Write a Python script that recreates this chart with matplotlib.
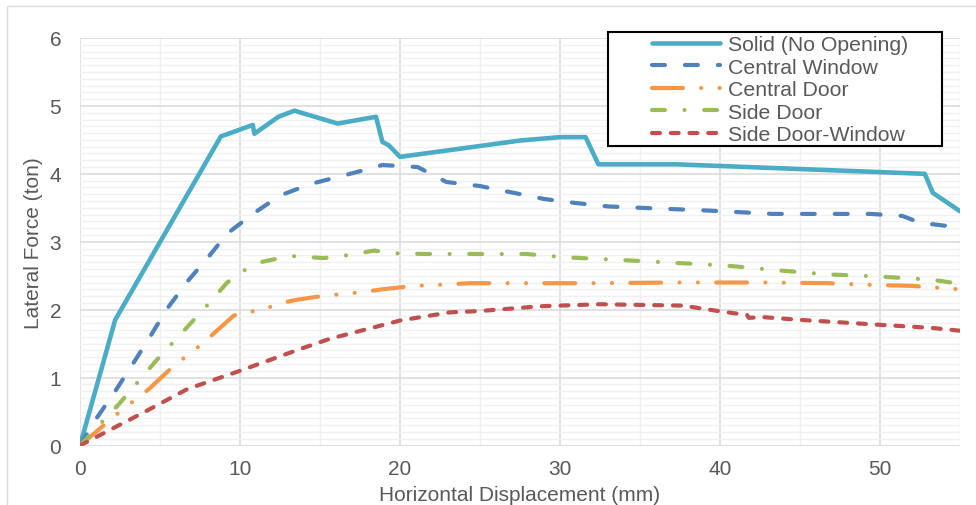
import matplotlib
matplotlib.use("Agg")
import matplotlib.pyplot as plt
from matplotlib.patches import Rectangle
from matplotlib.ticker import MultipleLocator

plt.rcParams['font.family'] = ['Liberation Sans', 'DejaVu Sans']

# data
solid_x = [0, 2.2, 8.8, 10.8, 10.9, 12.4, 13.4, 16.1, 18.5, 18.9, 19.3, 20.0, 25.0, 27.5, 30.0, 31.6,
           32.4, 37.3, 52.8, 53.3, 55]
solid_y = [0, 1.85, 4.55, 4.72, 4.59, 4.84, 4.93, 4.74, 4.84, 4.47, 4.42, 4.25, 4.41, 4.49, 4.54, 4.54,
           4.14, 4.14, 4.0, 3.72, 3.45]

cw_x = [0, 1.0, 2.2, 3.3, 4.4, 5.4, 6.6, 6.8, 7.9, 9.2, 10.8, 12.5, 14.4, 17.2, 18.9, 21.1, 22.9, 25.0,
        26.9, 29.0, 31.0, 33.0, 35.0, 39.2, 43.3, 49.4, 51.4, 52.5, 55]
cw_y = [0, 0.39, 0.8, 1.2, 1.61, 2.0, 2.38, 2.44, 2.74, 3.12, 3.41, 3.68, 3.85, 4.02, 4.13, 4.1, 3.88, 3.82,
        3.73, 3.63, 3.57, 3.52, 3.5, 3.46, 3.41, 3.41, 3.38, 3.28, 3.21]

cd_x = [0, 2.4, 4.3, 5.8, 7.6, 8.55, 9.6, 10.2, 11.25, 12.3, 13.4, 15.1, 17.7, 18.9, 20.9, 24.4, 32.0,
        37.5, 43.1, 46.7, 48.75, 52.0, 55]
cd_y = [0, 0.48, 0.83, 1.16, 1.49, 1.69, 1.91, 1.97, 1.98, 2.08, 2.14, 2.2, 2.26, 2.3, 2.35, 2.39, 2.39,
        2.4, 2.4, 2.39, 2.37, 2.35, 2.3]

sd_x = [0, 2.4, 4.8, 7.9, 9.2, 10.2, 11.1, 12.3, 13.2, 15.2, 16.4, 18.4, 19.5, 21.6, 24.4, 27.9, 30.4,
        33.9, 38.75, 40.8, 43.6, 46.7, 49.8, 53.3, 55]
sd_y = [0, 0.6, 1.26, 2.05, 2.4, 2.57, 2.69, 2.75, 2.79, 2.76, 2.79, 2.87, 2.83, 2.82, 2.82, 2.82, 2.77,
        2.73, 2.67, 2.64, 2.58, 2.52, 2.49, 2.44, 2.38]

sdw_x = [0, 4.0, 6.7, 10.0, 13.75, 15.6, 20.0, 23.1, 25.0, 28.75, 32.5, 35.0, 37.7, 38.75, 39.9, 41.7,
         41.8, 42.7, 45.0, 49.8, 53.3, 55]
sdw_y = [0, 0.49, 0.83, 1.1, 1.42, 1.57, 1.84, 1.96, 1.98, 2.05, 2.08, 2.07, 2.06, 2.02, 1.98, 1.92,
         1.88, 1.89, 1.85, 1.78, 1.73, 1.69]

labels = ["Solid (No Opening)", "Central Window", "Central Door", "Side Door", "Side Door-Window"]

W, H = 976, 506
fig = plt.figure(figsize=(W / 100, H / 100), dpi=100)
fig.patches.append(Rectangle((7 / W, -0.1), 1.2, 1 - 7 / H + 0.1, transform=fig.transFigure,
                             facecolor='none', edgecolor='#d9d9d9', linewidth=1.0, zorder=-1))

ax = fig.add_axes([80 / W, 1 - 446.5 / H, 880 / W, 407.5 / H])
ax.set_facecolor('none')
ax.set_xlim(0, 55)
ax.set_ylim(0, 6)
ax.xaxis.set_major_locator(MultipleLocator(10))
ax.xaxis.set_minor_locator(MultipleLocator(5))
ax.yaxis.set_major_locator(MultipleLocator(1))
ax.yaxis.set_minor_locator(MultipleLocator(0.1))
ax.grid(which='minor', color='#f0f0f0', linewidth=1.0)
ax.grid(which='major', color='#d9d9d9', linewidth=1.1)
ax.set_axisbelow(True)
for s in ax.spines.values():
    s.set_visible(False)
ax.tick_params(which='both', length=0, labelsize=15, labelcolor='#595959')
ax.tick_params(axis='y', pad=13.5)
ax.tick_params(axis='x', pad=10)

lw = 3.0
common = dict(linewidth=lw, solid_capstyle='round', dash_capstyle='round', clip_on=True)
l1, = ax.plot(solid_x, solid_y, color='#4bacc6', linewidth=3.3, solid_capstyle='round')
l2, = ax.plot(cw_x, cw_y, color='#4f81bd', dashes=(3.1, 4.8), **common)
l3, = ax.plot(cd_x, cd_y, color='#f79646', dashes=(7.4, 4.4, 0.01, 4.4, 0.01, 4.4), **common)
l4, = ax.plot(sd_x, sd_y, color='#9bbb59', dashes=(3.1, 4.7, 0.01, 4.7), **common)
l5, = ax.plot(sdw_x, sdw_y, color='#c0504d', dashes=(1.9, 2.6), **common)

ax.set_xlabel("Horizontal Displacement (mm)", fontsize=15, color='#595959', labelpad=5)
ax.set_ylabel("Lateral Force (ton)", fontsize=15, color='#595959', labelpad=5)

# legend box
fig.patches.append(Rectangle((608 / W, 1 - 147 / H), 334 / W, 114 / H, transform=fig.transFigure,
                             facecolor='white', edgecolor='black', linewidth=1.5, zorder=5))
leg = fig.legend([l1, l2, l3, l4, l5], labels, loc='upper left',
                 bbox_to_anchor=(652 / W, 1 - 36 / H), frameon=False, fontsize=15.3,
                 handlelength=3.2, handletextpad=0.4, labelspacing=0.17, borderpad=0.0,
                 borderaxespad=0.0)
leg.set_zorder(6)
for t in leg.get_texts():
    t.set_color('#595959')

fig.savefig("out.png", dpi=100)
